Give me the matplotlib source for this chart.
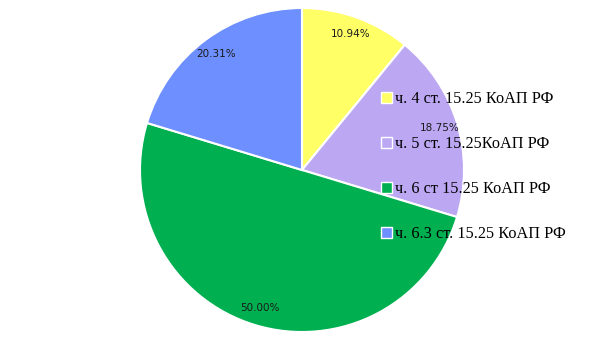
import matplotlib
matplotlib.use("Agg")
import matplotlib.pyplot as plt

# slice data, clockwise from the top
labels = ["ч. 4 ст. 15.25 КоАП РФ", "ч. 5 ст. 15.25КоАП РФ",
          "ч. 6 ст 15.25 КоАП РФ", "ч. 6.3 ст. 15.25 КоАП РФ"]
shares = [10.94, 18.75, 50.00, 20.31]
colors = ["#FFFF66", "#BBA7F2", "#00B050", "#6E8FFF"]

W, H = 605, 340
fig = plt.figure(figsize=(W / 100, H / 100), dpi=100)

# pie centre ~ (302, 170) px, radius ~ 162 px
cx, cy, r = 302, 170, 162
ax = fig.add_axes([(cx - r) / W, (H - cy - r) / H, 2 * r / W, 2 * r / H])
ax.axis("off")

wedges, texts, autotexts = ax.pie(
    shares, colors=colors, startangle=90, counterclock=False,
    autopct="%.2f%%", pctdistance=0.89,
    wedgeprops=dict(edgecolor="white", linewidth=1.5),
    textprops=dict(fontsize=7.5, color="#1a1a1a"))
ax.set_xlim(-1, 1)
ax.set_ylim(-1, 1)

leg = ax.legend(wedges, labels, loc="upper left",
                bbox_to_anchor=(366 / W, 1 - 76.5 / H), bbox_transform=fig.transFigure,
                frameon=False, labelspacing=1.79, handlelength=0.68, handleheight=0.68,
                handletextpad=0.2,
                prop=dict(family="Liberation Serif", size=11.7))
for h in leg.legend_handles:
    h.set_edgecolor("white")
    h.set_linewidth(1.0)

fig.savefig("out.png", dpi=100)
